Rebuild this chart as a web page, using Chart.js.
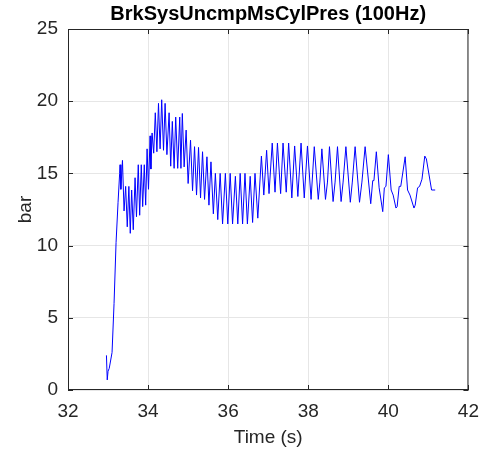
<!DOCTYPE html>
<html lang="en">
  <head>
    <meta charset="UTF-8" />
    <title>BrkSysUncmpMsCylPres</title>
    <script src="https://cdn.jsdelivr.net/npm/chart.js@4.4.0/dist/chart.umd.min.js"></script>
    <style>
      body { margin: 0; background: #fff; }
    </style>
  </head>
  <body>
    <canvas id="chart" width="489" height="454"></canvas>

    <script>
      // signal samples (time in s, pressure in bar)
      const timeVals = [
        32.96, 32.98, 33.00, 33.03, 33.10, 33.15, 33.20, 33.25, 33.29, 33.30,
        33.32, 33.36, 33.40, 33.44, 33.48, 33.52, 33.555, 33.59, 33.63, 33.675,
        33.71, 33.755, 33.79, 33.83, 33.865, 33.905, 33.94, 33.975, 34.01, 34.05,
        34.07, 34.10, 34.14, 34.18, 34.22, 34.26, 34.30, 34.34, 34.385, 34.425,
        34.47, 34.525, 34.565, 34.605, 34.65, 34.69, 34.74, 34.79, 34.82, 34.855,
        34.90, 34.95, 35.00, 35.06, 35.11, 35.16, 35.21, 35.26, 35.31, 35.36,
        35.41, 35.47, 35.52, 35.57, 35.63, 35.68, 35.74, 35.80, 35.86, 35.93,
        35.99, 36.05, 36.11, 36.18, 36.24, 36.30, 36.36, 36.42, 36.48, 36.55,
        36.61, 36.67, 36.74, 36.83, 36.89, 36.96, 37.02, 37.10, 37.17, 37.23,
        37.31, 37.37, 37.45, 37.51, 37.59, 37.66, 37.74, 37.82, 37.90, 37.98,
        38.07, 38.15, 38.25, 38.29, 38.34, 38.43, 38.48, 38.53, 38.62, 38.67,
        38.73, 38.82, 38.87, 38.94, 39.05, 39.10, 39.17, 39.28, 39.34, 39.42,
        39.56, 39.61, 39.64, 39.70, 39.77, 39.86, 39.90, 39.94, 40.00, 40.07,
        40.12, 40.19, 40.22, 40.27, 40.31, 40.42, 40.48, 40.54, 40.64, 40.67,
        40.73, 40.78, 40.84, 40.91, 40.95, 41.08, 41.17
      ];
      const presVals = [
        2.4, 0.7, 1.3, 1.5, 2.6, 6.0, 10.2, 13.0, 15.0, 15.6,
        13.9, 15.9, 12.4, 14.1, 11.3, 14.1, 10.85, 13.85, 11.1, 14.7,
        12.0, 15.6, 12.1, 15.6, 12.7, 15.6, 12.8, 16.7, 13.9, 17.6,
        15.3, 17.8, 16.4, 19.2, 16.5, 19.85, 16.7, 20.1, 16.6, 19.85,
        16.3, 19.2, 15.5, 18.6, 15.35, 18.9, 15.35, 18.9, 15.35, 19.15,
        15.45, 18.0, 14.3, 17.3, 13.8, 16.85, 13.5, 16.8, 13.3, 16.5,
        13.2, 16.15, 12.8, 15.8, 12.2, 15.0, 11.8, 15.0, 11.5, 15.0,
        11.5, 15.0, 11.5, 14.8, 11.5, 15.0, 11.5, 15.0, 11.5, 14.8,
        11.6, 15.0, 11.9, 16.2, 13.5, 16.6, 13.6, 17.1, 13.7, 17.1,
        13.6, 17.1, 13.7, 17.1, 13.3, 16.9, 13.4, 17.1, 13.3, 16.9,
        13.2, 16.85, 13.2, 14.4, 16.7, 13.2, 14.4, 16.85, 13.05, 14.4,
        16.85, 13.05, 14.4, 16.85, 13.0, 14.4, 16.85, 13.0, 14.4, 16.85,
        12.9, 14.5, 14.5, 16.5, 14.0, 12.35, 14.0, 14.1, 16.3, 13.85,
        13.5, 12.6, 12.7, 14.1, 14.1, 16.15, 13.85, 13.5, 12.6, 12.8,
        14.0, 14.1, 14.6, 16.2, 16.0, 13.85, 13.85
      ];
      const xTicks = [32, 34, 36, 38, 40, 42];
      const yTicks = [0, 5, 10, 15, 20, 25];

      Chart.defaults.font.family = "'Liberation Sans', Arial, sans-serif";
      Chart.defaults.color = '#262626';

      const points = timeVals.map((t, i) => ({ x: t, y: presVals[i] }));

      // matlab style box with inward tick marks
      const boxPlugin = {
        id: 'box',
        afterDraw(chart) {
          const { ctx, chartArea: a, scales } = chart;
          ctx.save();
          ctx.strokeStyle = '#262626';
          ctx.lineWidth = 1;
          ctx.strokeRect(a.left + 0.5, a.top + 0.5, a.right - a.left - 1, a.bottom - a.top - 1);
          ctx.beginPath();
          xTicks.forEach(v => {
            const px = Math.round(scales.x.getPixelForValue(v)) + 0.5;
            ctx.moveTo(px, a.bottom); ctx.lineTo(px, a.bottom - 5);
            ctx.moveTo(px, a.top); ctx.lineTo(px, a.top + 5);
          });
          yTicks.forEach(v => {
            const py = Math.round(scales.y.getPixelForValue(v)) + 0.5;
            ctx.moveTo(a.left, py); ctx.lineTo(a.left + 5, py);
            ctx.moveTo(a.right, py); ctx.lineTo(a.right - 5, py);
          });
          ctx.stroke();
          ctx.restore();
        }
      };

      const ctx = document.getElementById('chart').getContext('2d');
      const myChart = new Chart(ctx, {
        type: 'line',
        data: {
          datasets: [{
            data: points,
            borderColor: '#0000ff',
            borderWidth: 1,
            pointRadius: 0,
            tension: 0,
            fill: false
          }]
        },
        options: {
          responsive: false,
          animation: false,
          layout: { padding: { left: 0, right: 17, top: 0, bottom: 0 } },
          plugins: {
            legend: { display: false },
            tooltip: { enabled: false },
            title: {
              display: true,
              fullSize: false, // center over the plot box, not the canvas
              text: 'BrkSysUncmpMsCylPres (100Hz)',
              color: '#000',
              font: { size: 20, weight: 'bold' },
              padding: { top: 2, bottom: 3 }
            }
          },
          scales: {
            x: {
              type: 'linear',
              min: 32,
              max: 42,
              afterBuildTicks: s => { s.ticks = xTicks.map(v => ({ value: v })); },
              afterFit: s => { s.height = 64; },
              ticks: { font: { size: 19 }, padding: 10, maxRotation: 0 },
              grid: { color: '#e6e6e6', drawTicks: false },
              border: { display: false },
              title: { display: true, text: 'Time (s)', font: { size: 19 }, padding: { top: 0, bottom: 5 } }
            },
            y: {
              min: 0,
              max: 25,
              afterBuildTicks: s => { s.ticks = yTicks.map(v => ({ value: v })); },
              afterFit: s => { s.width = 68; },
              ticks: { font: { size: 19 }, padding: 10 },
              grid: { color: '#e6e6e6', drawTicks: false },
              border: { display: false },
              title: { display: true, text: 'bar', font: { size: 19 }, padding: { top: 14, bottom: 0 } }
            }
          }
        },
        plugins: [boxPlugin]
      });
    </script>
  </body>
</html>
